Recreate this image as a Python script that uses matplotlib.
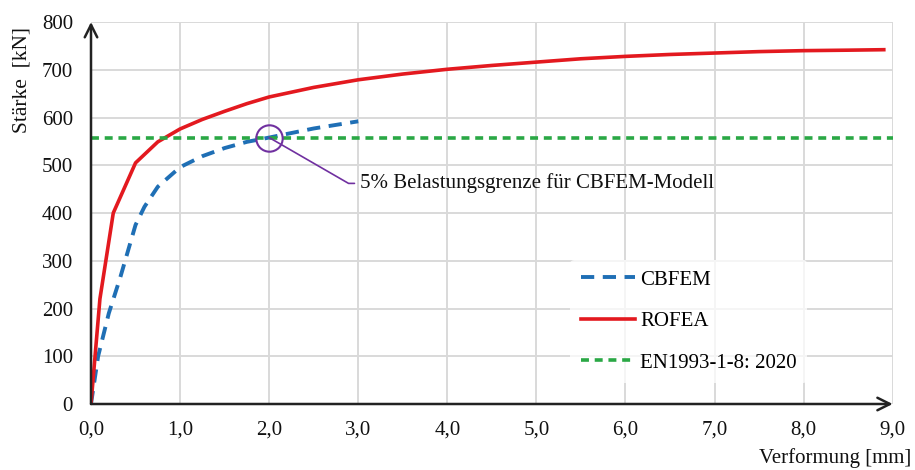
import matplotlib.pyplot as plt
import numpy as np

plt.rcParams['font.family'] = ['Liberation Serif', 'DejaVu Serif']

# Last-Verformungs-Kurven
rofea_x = [0, 0.1, 0.25, 0.5, 0.75, 1.0, 1.25, 1.5, 1.75, 2.0, 2.5, 3.0, 3.5,
           4.0, 4.5, 5.0, 5.5, 6.0, 6.5, 7.0, 7.5, 8.0, 8.5, 8.9]
rofea_y = [0, 220, 400, 505, 549, 576, 596, 613, 629, 643, 663, 679, 691,
           701, 709, 716, 723, 728, 732, 735, 738, 740, 741, 742]

cbfem_x = [0, 0.08, 0.2, 0.33, 0.5, 0.6, 0.75, 1.0, 1.25, 1.5, 1.75, 2.0, 2.5, 3.0]
cbfem_y = [0, 100, 190, 266, 375, 413, 455, 496, 519, 536, 549, 558, 577, 592]

en1993_y = 558          # Bemessungswert nach EN1993-1-8: 2020
limit_point = (2.0, 558)  # 5% Belastungsgrenze CBFEM

x_ticks = [0, 1, 2, 3, 4, 5, 6, 7, 8, 9]
x_tick_labels = ['0,0', '1,0', '2,0', '3,0', '4,0', '5,0', '6,0', '7,0', '8,0', '9,0']
y_ticks = [0, 100, 200, 300, 400, 500, 600, 700, 800]

fig = plt.figure(figsize=(9.15, 4.70), dpi=100)
ax = fig.add_axes([91 / 915, 1 - 404 / 470, (892.7 - 91) / 915, (404 - 22) / 470])

ax.plot(cbfem_x, cbfem_y, color='#1f6fb5', lw=2.8, dashes=(3.4, 2.2), label='CBFEM')
ax.plot(rofea_x, rofea_y, color='#e3191f', lw=2.6, label='ROFEA')
ax.plot([0, 9], [en1993_y, en1993_y], color='#2aa845', lw=2.6, dashes=(2.2, 1.6),
        label='EN1993-1-8: 2020')

# Markierung der Belastungsgrenze
ax.plot(*limit_point, marker='o', ms=19, mfc='none', mec='#7030a0', mew=1.5)
ax.annotate('5% Belastungsgrenze für CBFEM-Modell', xy=limit_point,
            xytext=(3.02, 462), textcoords='data', fontsize=15, color='#111111',
            va='center', ha='left',
            arrowprops=dict(arrowstyle='-', color='#7030a0', lw=1.2,
                            connectionstyle='angle,angleA=0,angleB=-30,rad=0',
                            shrinkA=2, shrinkB=0))

ax.set_xlim(0, 9)
ax.set_ylim(0, 800)
ax.set_xticks(x_ticks)
ax.set_xticklabels(x_tick_labels)
ax.set_yticks(y_ticks)
ax.tick_params(length=0, labelsize=15, colors='#111111')
ax.tick_params(axis='x', pad=12)
ax.tick_params(axis='y', pad=13)
ax.grid(True, color='#d9d9d9', lw=1.4)
ax.set_axisbelow(True)
for s in ax.spines.values():
    s.set_visible(False)

# Achsen mit Pfeilspitzen
arrow = dict(arrowstyle='->, head_length=0.9, head_width=0.45', color='#222222',
             lw=1.8, shrinkA=0, shrinkB=0)
ax.annotate('', xy=(9, 0), xytext=(0, 0), arrowprops=arrow, annotation_clip=False)
ax.annotate('', xy=(0, 800), xytext=(0, 0), arrowprops=arrow, annotation_clip=False)

leg = ax.legend(loc='upper left', bbox_to_anchor=(0.585, 0.405), fontsize=15,
                frameon=True, handlelength=2.6, handletextpad=0.25,
                labelspacing=1.05, borderpad=0.5)
leg.get_frame().set_edgecolor('none')
leg.get_frame().set_facecolor('white')
leg.get_frame().set_alpha(0.75)

fig.text(22 / 915, 1 - 80 / 470, 'Stärke  [kN]', rotation=90, fontsize=15.5,
         ha='center', va='center', color='#111111')
fig.text(835 / 915, 1 - 463 / 470, 'Verformung [mm]', fontsize=15,
         ha='center', va='baseline', color='#111111')

fig.savefig('out.png', dpi=100)
